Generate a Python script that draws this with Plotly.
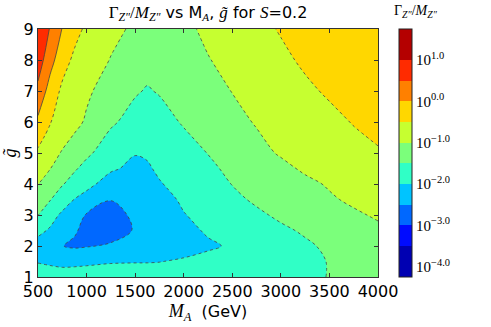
import plotly.graph_objects as go

# M_A (GeV) grid columns and g-tilde grid rows
M_A = [500, 625, 750, 875, 1000, 1250, 1500, 1625, 1750, 2000, 2250, 2500, 2750, 3000, 3250, 3500, 3750, 4000]
g_tilde = [1, 1.5, 2, 2.5, 3, 3.5, 4, 4.5, 5, 6, 7, 8, 9]

# log10(Gamma_Z''/M_Z''), one row per g_tilde value
log_width = [
    [-1.73, -1.74, -1.75, -1.77, -1.79, -1.80, -1.80, -1.79, -1.78, -1.75, -1.72, -1.69, -1.65, -1.61, -1.56, -1.49, -1.40, -1.30],
    [-2.03, -2.09, -2.15, -2.12, -2.08, -2.03, -2.02, -2.02, -2.01, -1.95, -1.87, -1.79, -1.72, -1.64, -1.56, -1.49, -1.40, -1.30],
    [-2.20, -2.38, -2.49, -2.56, -2.53, -2.45, -2.38, -2.33, -2.27, -2.16, -2.06, -1.95, -1.82, -1.69, -1.56, -1.43, -1.30, -1.18],
    [-1.87, -2.06, -2.26, -2.46, -2.60, -2.68, -2.47, -2.38, -2.30, -2.12, -1.95, -1.83, -1.70, -1.57, -1.45, -1.33, -1.20, -1.08],
    [-1.49, -1.80, -2.09, -2.32, -2.53, -2.62, -2.44, -2.33, -2.23, -2.02, -1.86, -1.72, -1.57, -1.43, -1.31, -1.19, -1.06, -0.95],
    [-1.27, -1.48, -1.74, -2.01, -2.17, -2.49, -2.42, -2.32, -2.17, -1.93, -1.76, -1.59, -1.44, -1.31, -1.18, -1.05, -0.93, -0.83],
    [-0.99, -1.23, -1.47, -1.67, -1.87, -2.20, -2.28, -2.20, -2.03, -1.84, -1.66, -1.49, -1.35, -1.22, -1.09, -0.96, -0.86, -0.78],
    [-0.90, -0.99, -1.22, -1.45, -1.63, -1.94, -2.10, -2.05, -1.93, -1.75, -1.58, -1.41, -1.25, -1.10, -0.94, -0.83, -0.75, -0.68],
    [-0.58, -0.81, -1.04, -1.23, -1.42, -1.73, -1.98, -1.95, -1.88, -1.68, -1.49, -1.31, -1.12, -0.96, -0.82, -0.72, -0.63, -0.53],
    [-0.10, -0.48, -0.68, -0.87, -1.06, -1.44, -1.65, -1.71, -1.66, -1.46, -1.29, -1.12, -0.97, -0.83, -0.72, -0.60, -0.48, -0.40],
    [0.38, -0.21, -0.59, -0.75, -0.92, -1.22, -1.46, -1.53, -1.47, -1.30, -1.14, -0.99, -0.85, -0.70, -0.57, -0.45, -0.37, -0.30],
    [0.75, 0.18, -0.31, -0.59, -0.74, -1.02, -1.27, -1.36, -1.37, -1.20, -1.02, -0.87, -0.73, -0.58, -0.44, -0.35, -0.28, -0.22],
    [0.90, 0.47, -0.02, -0.35, -0.58, -0.87, -1.08, -1.20, -1.25, -1.10, -0.91, -0.76, -0.61, -0.47, -0.38, -0.30, -0.23, -0.16],
]

x_ticks = [500, 1000, 1500, 2000, 2500, 3000, 3500, 4000]
y_ticks = [1, 2, 3, 4, 5, 6, 7, 8, 9]
cbar_ticks = [-4, -3, -2, -1, 0, 1]
cbar_labels = ["10<sup>−4.0</sup>", "10<sup>−3.0</sup>", "10<sup>−2.0</sup>",
               "10<sup>−1.0</sup>", "10<sup>0.0</sup>", "10<sup>1.0</sup>"]

band_colors = ["#0000b2", "#000bff", "#0068ff", "#00c4ff", "#30ffc6", "#7bff7b",
               "#c6ff30", "#ffd700", "#ff8000", "#ff2b00", "#b40000"]

# colour map nodes: below first level, 11 bands, above last level
nodes = [band_colors[0]] + band_colors + [band_colors[-1]]
colorscale = [[i / 12, c] for i, c in enumerate(nodes)]

SERIF = "Liberation Serif"
SANS = "DejaVu Sans"


def serif(t, size=None):
    s = f"font-family:{SERIF}" + (f";font-size:{size}px" if size else "")
    return f'<span style="{s}">{t}</span>'


fig = go.Figure()
fig.add_trace(go.Contour(
    x=M_A, y=g_tilde, z=log_width,
    autocontour=False,
    contours=dict(start=-4, end=1.5, size=0.5, coloring="fill", showlines=False),
    colorscale=colorscale,
    line=dict(width=0, smoothing=1),
    hoverinfo="skip",
    colorbar=dict(
        x=(399 - 38) / 340, xanchor="left", xpad=0,
        y=0.5, yanchor="middle", ypad=0,
        len=1, lenmode="fraction", thickness=13,
        outlinewidth=1, outlinecolor="#222",
        tickvals=cbar_ticks, ticktext=cbar_labels, ticks="",
        tickfont=dict(family=SERIF, size=15, color="black"),
    ),
))
# negative levels: dashed lines
fig.add_trace(go.Contour(
    x=M_A, y=g_tilde, z=log_width,
    autocontour=False,
    contours=dict(start=-4, end=-0.5, size=0.5, coloring="none"),
    line=dict(width=0.8, color="#444", dash="3px,3px", smoothing=1),
    showscale=False, hoverinfo="skip",
))
# non-negative levels: solid lines
fig.add_trace(go.Contour(
    x=M_A, y=g_tilde, z=log_width,
    autocontour=False,
    contours=dict(start=0, end=1.5, size=0.5, coloring="none"),
    line=dict(width=0.8, color="#444", smoothing=1),
    showscale=False, hoverinfo="skip",
))

axis_common = dict(
    ticks="inside", ticklen=4, tickwidth=1, tickcolor="#333",
    showline=True, linecolor="#333", linewidth=1, mirror="ticks",
    showgrid=False, zeroline=False, automargin=False,
    tickfont=dict(family=SANS, size=16, color="black"),
)

fig.update_layout(
    width=491, height=327,
    margin=dict(l=38, r=113, t=29, b=50, autoexpand=False),
    paper_bgcolor="white", plot_bgcolor="white",
    showlegend=False,
    title=dict(
        text=(serif("Γ<sub><i>Z″</i></sub>/<i>M</i><sub><i>Z″</i></sub>", 17)
              + " vs M<sub>" + serif("<i>A</i>") + "</sub>, "
              + serif("<i>g̃</i>", 17) + " for " + serif("<i>S</i>", 17) + "=0.2"),
        x=0.5, xref="paper", xanchor="center",
        y=1 - 12 / 327, yref="container", yanchor="middle",
        font=dict(family=SANS, size=16, color="black"),
    ),
    xaxis=dict(range=[500, 4000], tickvals=x_ticks,
               title=dict(text=serif("<i>M<sub>A</sub></i>", 18) + "  (GeV)",
                          font=dict(family=SANS, size=16, color="black"), standoff=2),
               **axis_common),
    yaxis=dict(range=[1, 9], tickvals=y_ticks,
               title=dict(text="<i>g̃</i>", font=dict(family=SERIF, size=18, color="black"), standoff=4),
               **axis_common),
    annotations=[dict(
        text="Γ<sub><i>Z″</i></sub>/<i>M</i><sub><i>Z″</i></sub>",
        x=(416 - 38) / 340, y=(277 - 12) / 248, xref="paper", yref="paper",
        xanchor="center", yanchor="middle", showarrow=False,
        font=dict(family=SERIF, size=14, color="black"),
    )],
)

fig.write_html("out.html", config={"displayModeBar": False},
               post_script="document.body.style.margin='0';")
